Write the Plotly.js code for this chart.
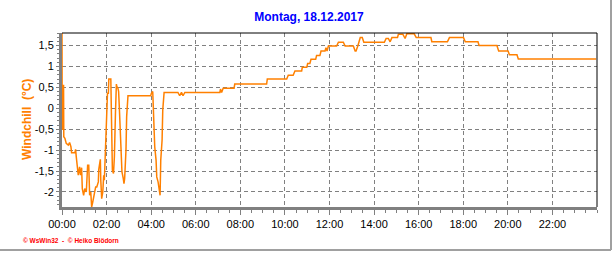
<!DOCTYPE html>
<html>
<head>
<meta charset="utf-8">
<script src="https://cdn.plot.ly/plotly-3.0.1.min.js"></script>
<style>
html,body{margin:0;padding:0;background:#fff;}
#chart{width:616px;height:253px;}
</style>
</head>
<body>
<div id="chart"></div>
<script>
// Time of day in decimal hours
const hours = [0.00,0.01,0.07,0.08,0.13,0.19,0.28,0.34,0.40,0.43,0.58,0.61,0.64,0.70,0.73,0.79,0.83,0.88,0.91,0.97,
1.02,1.09,1.15,1.20,1.24,1.29,1.33,1.38,1.45,1.51,1.56,1.63,1.65,1.72,1.74,1.78,1.83,1.87,1.90,1.92,1.96,1.99,
2.04,2.08,2.10,2.19,2.22,2.26,2.31,2.35,2.40,2.44,2.46,2.51,2.54,2.57,2.60,2.63,2.69,2.75,2.78,2.81,2.87,2.90,2.96,
3.98,4.01,4.07,4.10,4.16,4.22,4.25,4.31,4.37,4.40,4.43,4.49,4.52,4.58,5.20,5.28,5.36,5.43,5.51,
7.08,7.11,7.16,7.23,7.72,7.75,9.18,9.21,10.08,10.15,10.37,10.45,10.75,10.78,10.98,11.02,11.12,11.17,11.38,11.42,
11.57,11.62,11.80,11.84,11.89,11.95,12.32,12.40,12.62,12.70,13.07,13.15,13.19,13.27,13.33,13.38,13.47,13.54,
14.46,14.54,14.64,14.72,14.80,15.05,15.09,15.29,15.35,15.39,15.47,15.80,15.89,16.55,16.59,17.29,17.38,18.01,18.09,
18.66,18.71,19.51,19.59,20.01,20.07,20.41,20.47,23.96];
// Windchill in °C
const windchill = [1.85,-0.52,0.56,-0.68,-0.72,-0.84,-0.88,-0.82,-0.92,-1.06,-1.06,-0.98,-1.16,-1.48,-1.60,-1.40,-1.60,-1.42,-1.92,-2.08,
-1.92,-2.00,-1.36,-1.36,-2.08,-2.00,-2.36,-2.24,-2.04,-1.88,-1.88,-1.76,-1.46,-1.22,-1.72,-2.16,-2.00,-1.60,-1.72,-1.44,-0.92,-0.56,
0.36,0.36,0.70,0.70,-0.88,-1.48,-1.56,-1.16,-0.08,0.58,0.52,0.48,0.40,0.04,-0.44,-0.96,-1.52,-1.68,-1.80,-1.68,-1.00,-0.20,0.30,
0.30,0.36,0.40,-0.08,-0.92,-1.24,-1.64,-1.76,-2.00,-2.08,-1.24,-0.76,-0.04,0.38,0.38,0.30,0.38,0.30,0.38,
0.38,0.46,0.38,0.48,0.48,0.58,0.58,0.70,0.70,0.79,0.79,0.89,0.89,0.98,0.98,1.07,1.07,1.17,1.17,1.26,
1.26,1.37,1.37,1.45,1.37,1.49,1.49,1.58,1.58,1.49,1.49,1.37,1.37,1.49,1.61,1.69,1.69,1.58,
1.58,1.67,1.67,1.59,1.69,1.69,1.77,1.77,1.71,1.67,1.78,1.78,1.69,1.69,1.59,1.59,1.69,1.69,1.59,
1.59,1.50,1.50,1.37,1.37,1.28,1.28,1.18,1.18];

const xTickVals = [0,2,4,6,8,10,12,14,16,18,20,22];
const xTickText = ["00:00","02:00","04:00","06:00","08:00","10:00","12:00","14:00","16:00","18:00","20:00","22:00"];
const yTickVals = [-2,-1.5,-1,-0.5,0,0.5,1,1.5];
const yTickText = ["-2","-1,5","-1","-0,5","0","0,5","1","1,5"];

const titleText = "Montag, 18.12.2017";
const yTitleText = "Windchill  (°C)";
const footerText = "© WsWin32  -  © Heiko Blödorn";

const W = 616, H = 253;
const M = {l:62, r:19, t:33, b:46};
const pw = W - M.l - M.r, ph = H - M.t - M.b;
const px = v => (v - M.l) / pw;          // pixel -> paper x
const py = v => (H - M.b - v) / ph;      // pixel -> paper y

const font = "Liberation Sans, Arial, sans-serif";

const trace = {
  x: hours, y: windchill, type: 'scatter', mode: 'lines',
  line: {color: '#FF8000', width: 1.5},
  hoverinfo: 'skip'
};

const layout = {
  width: W, height: H,
  margin: M,
  paper_bgcolor: '#ffffff', plot_bgcolor: '#ffffff',
  showlegend: false,
  separators: ',.',
  font: {family: font, size: 11, color: '#000'},
  title: {text: titleText, font: {family: font, size: 12, color: '#0000FF', weight: 'bold'},
          x: 309 / W, xanchor: 'center', y: 1 - 17 / H, yanchor: 'middle'},
  xaxis: {
    range: [0, 24], showline: true, linecolor: '#808080', linewidth: 3,
    showgrid: true, gridcolor: '#808080', griddash: '4px,3px', gridwidth: 1,
    tickmode: 'array', tickvals: xTickVals, ticktext: xTickText,
    ticks: 'outside', ticklen: 5, tickcolor: '#808080', tickwidth: 1,
    minor: {dtick: 0.5, tick0: 0, ticks: 'outside', ticklen: 3, tickcolor: '#808080', showgrid: false},
    tickfont: {family: font, size: 11, color: '#000'},
    zeroline: false, fixedrange: true
  },
  yaxis: {
    range: [-2.36, 1.80], showline: true, linecolor: '#808080', linewidth: 3,
    showgrid: true, gridcolor: '#808080', griddash: '4px,3px', gridwidth: 1,
    tickmode: 'array', tickvals: yTickVals, ticktext: yTickText,
    ticks: 'outside', ticklen: 3, tickcolor: '#808080', tickwidth: 1,
    minor: {dtick: 0.1, tick0: 0, ticks: 'outside', ticklen: 2, tickcolor: '#808080', showgrid: false},
    tickfont: {family: font, size: 11, color: '#000'},
    zeroline: false, fixedrange: true
  },
  shapes: [
    // black frame on top and right of the plot area
    {type: 'line', xref: 'paper', yref: 'paper', x0: 0, x1: 1, y0: 1, y1: 1, line: {color: '#000', width: 1}},
    {type: 'line', xref: 'paper', yref: 'paper', x0: 1, x1: 1, y0: 0, y1: 1, line: {color: '#000', width: 1}},
    // outer grey border (right and bottom)
    {type: 'line', xref: 'paper', yref: 'paper', x0: px(611), x1: px(611), y0: py(0), y1: py(250), line: {color: '#A0A0A0', width: 2}},
    {type: 'line', xref: 'paper', yref: 'paper', x0: px(0), x1: px(611), y0: py(250), y1: py(250), line: {color: '#A0A0A0', width: 2}}
  ],
  annotations: [
    {text: '<b>' + yTitleText + '</b>', xref: 'paper', yref: 'paper', x: px(27), y: py(120),
     textangle: -90, showarrow: false, xanchor: 'center', yanchor: 'middle',
     font: {family: font, size: 12, color: '#FF8000'}},
    {text: '<b>' + footerText + '</b>', xref: 'paper', yref: 'paper', x: px(21), y: py(240),
     showarrow: false, xanchor: 'left', yanchor: 'middle',
     font: {family: font, size: 6.5, color: '#FF0000'}}
  ]
};

Plotly.newPlot('chart', [trace], layout, {staticPlot: true, displayModeBar: false});
</script>
</body>
</html>
